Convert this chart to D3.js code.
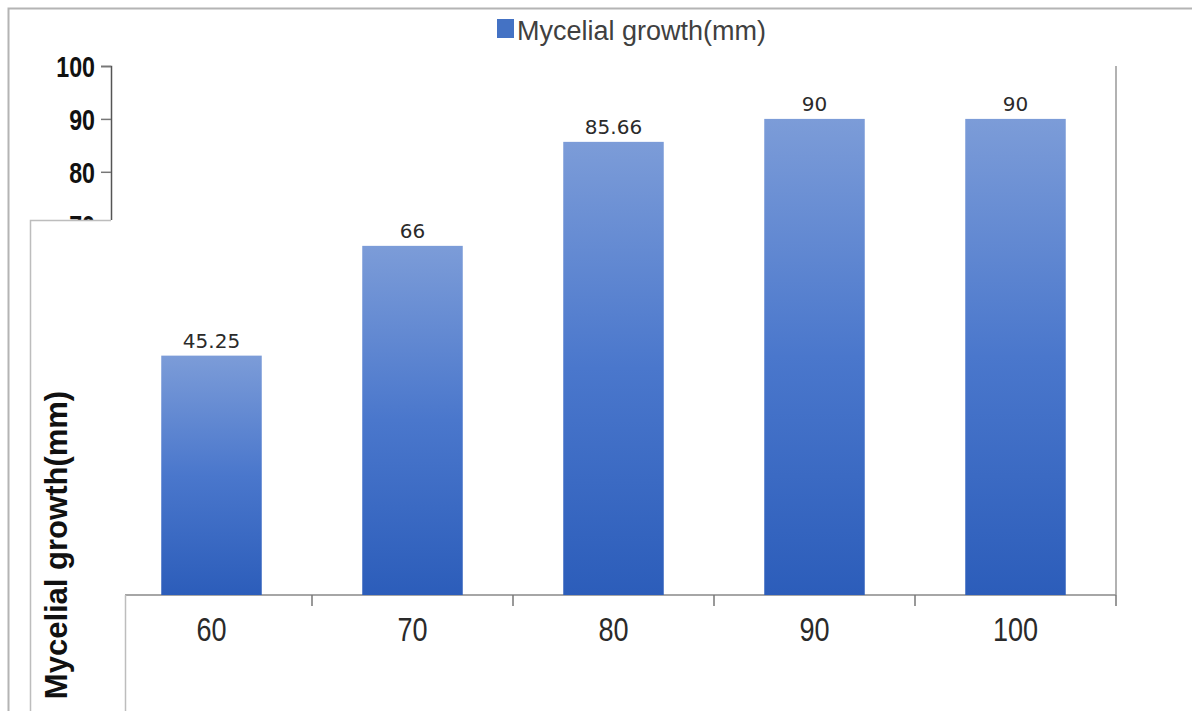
<!DOCTYPE html>
<html>
<head>
<meta charset="utf-8">
<script src="https://cdn.jsdelivr.net/npm/d3@7"></script>
<style>
  html, body { margin: 0; padding: 0; background: #fff; }
  svg { display: block; }
</style>
</head>
<body>
<svg id="chart" width="1192" height="711"></svg>
<script>
const categories = ["60", "70", "80", "90", "100"];
const growthValues = [45.25, 66, 85.66, 90, 90];
const yTickValues = [0, 10, 20, 30, 40, 50, 60, 70, 80, 90, 100];
const seriesName = "Mycelial growth(mm)";
const yTitle = "Mycelial growth(mm)";

const svg = d3.select("#chart");
const sans = "'Liberation Sans', Arial, sans-serif";

const x = d3.scaleBand().domain(categories).range([111, 1116]).paddingInner(0.5).paddingOuter(0.25);
const y = d3.scaleLinear().domain([0, 100]).range([595, 66]);

const defs = svg.append("defs");
const grad = defs.append("linearGradient").attr("id", "barGrad")
  .attr("x1", 0).attr("y1", 0).attr("x2", 0).attr("y2", 1);
grad.append("stop").attr("offset", "0%").attr("stop-color", "#7c9cd8");
grad.append("stop").attr("offset", "50%").attr("stop-color", "#4a77cc");
grad.append("stop").attr("offset", "100%").attr("stop-color", "#2c5dba");

// outer frame
svg.append("path").attr("d", "M8.5,711 V8.5 H1192").attr("fill", "none")
  .attr("stroke", "#b4b4b4").attr("stroke-width", 2);

// y axis
const yAxis = svg.append("g").attr("transform", "translate(111,0)")
  .call(d3.axisLeft(y).tickValues(yTickValues).tickSize(10).tickPadding(6).tickFormat(d3.format("d")));
yAxis.select(".domain").attr("stroke", "#555").attr("stroke-width", 1.5);
yAxis.selectAll(".tick line").attr("stroke", "#777").attr("stroke-width", 1.5);
yAxis.selectAll(".tick text").attr("font-family", sans).attr("font-weight", "bold")
  .attr("font-size", 29).attr("fill", "#111").attr("dy", "0.36em")
  .attr("x", 0).attr("transform", "translate(-16,0) scale(0.8,1)");

// overlay box covering lower part of y axis
svg.append("rect").attr("x", 30).attr("y", 220).attr("width", 95).attr("height", 500).attr("fill", "#fff");
svg.append("path").attr("d", "M30.5,711 V220.5 H111").attr("fill", "none")
  .attr("stroke", "#bdbdbd").attr("stroke-width", 1.5);

// x axis baseline and boundary ticks
const step = x.step();
const boundaries = categories.map(c => x(c) + x.bandwidth() + step * x.paddingOuter());
svg.append("line").attr("x1", 125).attr("x2", 1116).attr("y1", y(0)).attr("y2", y(0))
  .attr("stroke", "#888").attr("stroke-width", 1.5);
svg.append("line").attr("x1", 125.5).attr("x2", 125.5).attr("y1", y(0)).attr("y2", 711)
  .attr("stroke", "#bdbdbd").attr("stroke-width", 1.5);
svg.selectAll(".btick").data(boundaries).join("line").attr("class", "btick")
  .attr("x1", d => d).attr("x2", d => d).attr("y1", y(0)).attr("y2", y(0) + 11)
  .attr("stroke", "#777").attr("stroke-width", 1.5);

// x tick labels
const xAxis = svg.append("g").attr("transform", `translate(0,${y(0)})`)
  .call(d3.axisBottom(x).tickSize(0).tickPadding(0));
xAxis.select(".domain").remove();
xAxis.selectAll(".tick text").attr("font-family", sans).attr("font-size", 33)
  .attr("fill", "#2a2a2a").attr("dy", null).attr("y", 0)
  .attr("transform", "translate(0,46) scale(0.82,1)");

// right border line
svg.append("line").attr("x1", 1116).attr("x2", 1116).attr("y1", y(100)).attr("y2", y(0))
  .attr("stroke", "#999").attr("stroke-width", 1.5);

// bars
svg.selectAll(".bar").data(growthValues).join("rect").attr("class", "bar")
  .attr("x", (d, i) => x(categories[i]))
  .attr("y", d => y(d))
  .attr("width", x.bandwidth())
  .attr("height", d => y(0) - y(d))
  .attr("fill", "url(#barGrad)");

// data labels
svg.selectAll(".lbl").data(growthValues).join("text").attr("class", "lbl")
  .attr("x", (d, i) => x(categories[i]) + x.bandwidth() / 2)
  .attr("y", d => y(d) - 8)
  .attr("text-anchor", "middle")
  .attr("font-family", "'DejaVu Sans', sans-serif").attr("font-size", 20).attr("fill", "#2a2a2a")
  .text(d => d);

// legend
const lg = svg.append("g");
lg.append("rect").attr("x", 497).attr("y", 19).attr("width", 17).attr("height", 19).attr("fill", "#4472c4");
lg.append("text").attr("x", 517).attr("y", 40).attr("font-family", sans)
  .attr("font-size", 27).attr("fill", "#404040").text(seriesName);

// y title
svg.append("text").attr("transform", "translate(67,545) rotate(-90)")
  .attr("text-anchor", "middle").attr("font-family", sans)
  .attr("font-weight", "bold").attr("font-size", 31).attr("fill", "#111").text(yTitle);
</script>
</body>
</html>
